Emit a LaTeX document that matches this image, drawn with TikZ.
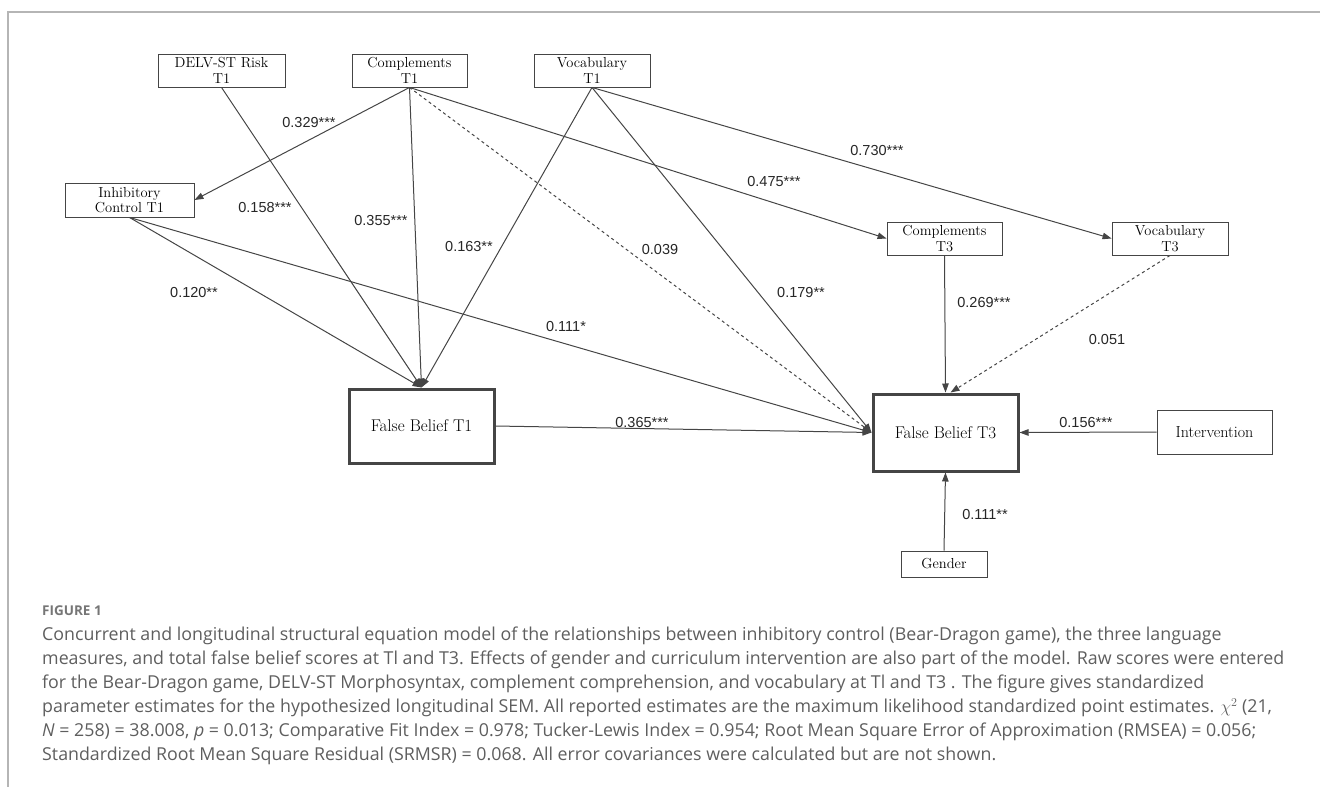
\documentclass[tikz,border=0pt]{standalone}
\usepackage{fontspec}
\usepackage{amsmath}
\usetikzlibrary{arrows.meta}

\newfontfamily\lblfont{Liberation Sans}
\newfontfamily\capfont{Open Sans}

\definecolor{edgegray}{HTML}{454545}
\definecolor{framegray}{HTML}{B5B5B5}
\definecolor{capgray}{HTML}{5E5E5E}

\begin{document}
\begin{tikzpicture}[x=1pt,y=-1pt,
var/.style={draw=edgegray,line width=0.9pt,align=center,inner sep=0pt,font=\fontsize{14.5}{15.5}\selectfont},
fb/.style={var,line width=3pt,font=\fontsize{17}{18}\selectfont},
lbl/.style={font=\lblfont\fontsize{14.5}{16}\selectfont,text=black!85,inner sep=1pt},
arrow/.style={-{Triangle[length=9pt,width=6.5pt]},line width=1pt,draw=edgegray},
dasharrow/.style={arrow,dashed} ]

\useasboundingbox (0,0) rectangle (1320,787);

\draw[framegray,line width=1.2pt] (8,787) -- (8,12) -- (1320,12);

\node[var,minimum width=127pt,minimum height=33pt] (DELV1) at (221.5,70.5) {DELV-ST Risk\\T1};

\node[var,minimum width=115pt,minimum height=33pt] (Comp1) at (409.5,70.5) {Complements\\T1};

\node[var,minimum width=116pt,minimum height=33pt] (Vocab1) at (592,70.5) {Vocabulary\\T1};

\node[var,minimum width=129pt,minimum height=34pt] (Inhib1) at (129.5,200) {Inhibitory\\Control T1};

\node[var,minimum width=115pt,minimum height=33pt] (Comp3) at (944.5,238.5) {Complements\\T3};

\node[var,minimum width=116pt,minimum height=33pt] (Vocab3) at (1170,238.5) {Vocabulary\\T3};

\node[fb,minimum width=145pt,minimum height=74pt] (FB1) at (421.5,426) {False Belief T1};

\node[fb,minimum width=145pt,minimum height=77pt] (FB3) at (945.5,432.5) {False Belief T3};

\node[var,minimum width=115pt,minimum height=44pt,font=\fontsize{16}{17}\selectfont] (Interv) at (1214.5,432) {Intervention};

\node[var,minimum width=86pt,minimum height=26pt] (Gender) at (944,564) {Gender};

\draw[arrow] (Comp1.south) -- (Inhib1.east);

\draw[arrow] (DELV1.south) -- (FB1.north);

\draw[arrow] (Comp1.south) -- (FB1.north);

\draw[arrow] (Vocab1.south) -- (FB1.north);

\draw[arrow] (Inhib1.south) -- (FB1.north);

\draw[arrow] (Inhib1.south) -- (FB3.west);

\draw[dasharrow] (Comp1.south) -- (FB3.west);

\draw[arrow] (Vocab1.south) -- (FB3.west);

\draw[arrow] (Comp1.south) -- (Comp3.west);

\draw[arrow] (Vocab1.south) -- (Vocab3.west);

\draw[arrow] (Comp3.south) -- (FB3.north);

\draw[dasharrow] (Vocab3.south) -- ([xshift=5pt]FB3.north);

\draw[arrow] (FB1.east) -- (FB3.west);

\draw[arrow] (Interv.west) -- (FB3.east);

\draw[arrow] (Gender.north) -- (FB3.south);

\node[lbl] (l329) at (309,123) {0.329***};

\node[lbl] (l158) at (265,208) {0.158***};

\node[lbl] (l355) at (381,221) {0.355***};

\node[lbl] (l163) at (469,247) {0.163**};

\node[lbl] (l120) at (194,293) {0.120**};

\node[lbl] (l111a) at (566,327) {0.111*};

\node[lbl] (l039) at (660,250) {0.039};

\node[lbl] (l179) at (801,293) {0.179**};

\node[lbl] (l475) at (774,182) {0.475***};

\node[lbl] (l730) at (877,151) {0.730***};

\node[lbl] (l365) at (642,423) {0.365***};

\node[lbl] (l269) at (984,303) {0.269***};

\node[lbl] (l051) at (1107,340) {0.051};

\node[lbl] (l156) at (1086,423) {0.156***};

\node[lbl] (l111b) at (985,515) {0.111**};

\node[anchor=north west,inner sep=0pt,text=capgray!85,font=\capfont\bfseries\fontsize{13.5}{16}\selectfont] (figno) at (42,606) {FIGURE 1};

\node[anchor=north west,inner sep=0pt,align=left,text=capgray,font=\capfont\fontsize{17.8}{24}\selectfont] (caption) at (42,627) {Concurrent and longitudinal structural equation model of the relationships between inhibitory control (Bear-Dragon game), the three language\\
measures, and total false belief scores at Tl and T3. Effects of gender and curriculum intervention are also part of the model. Raw scores were entered\\
for the Bear-Dragon game, DELV-ST Morphosyntax, complement comprehension, and vocabulary at Tl and T3 . The figure gives standardized\\
parameter estimates for the hypothesized longitudinal SEM. All reported estimates are the maximum likelihood standardized point estimates. $\chi^2$ (21,\\
\textit{N} = 258) = 38.008, \textit{p} = 0.013; Comparative Fit Index = 0.978; Tucker-Lewis Index = 0.954; Root Mean Square Error of Approximation (RMSEA) = 0.056;\\
Standardized Root Mean Square Residual (SRMSR) = 0.068. All error covariances were calculated but are not shown.};

\end{tikzpicture}
\end{document}
